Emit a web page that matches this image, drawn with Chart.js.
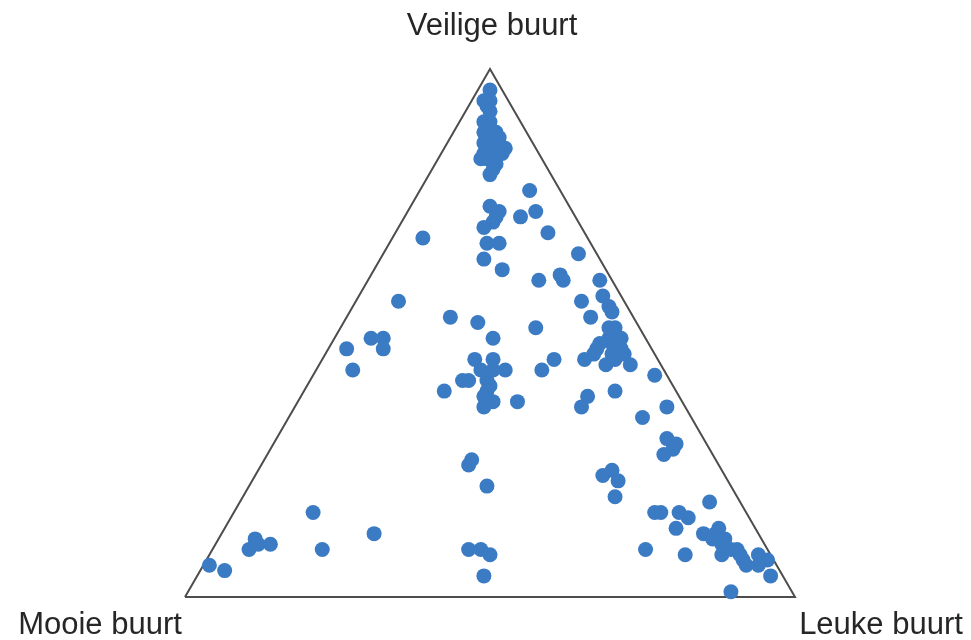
<!DOCTYPE html>
<html>
<head>
<meta charset="utf-8">
<script src="https://cdn.jsdelivr.net/npm/chart.js@4/dist/chart.umd.min.js"></script>
<style>
  html, body { margin: 0; padding: 0; background: #fff; }
  #wrap { width: 971px; height: 640px; position: relative; }
</style>
</head>
<body>
<div id="wrap"><canvas id="myChart"></canvas></div>
<script>
// corner labels (top, bottom-left, bottom-right)
const labelTop = 'Veilige buurt';
const labelLeft = 'Mooie buurt';
const labelRight = 'Leuke buurt';

// shares in percent, one entry per respondent
const veilige = [96, 94, 93, 92, 90, 90, 89, 88, 88, 87, 87, 86, 85, 85, 84, 84, 84, 83, 82, 81, 80, 94, 83,
    77, 74, 73, 71, 70, 72, 72, 73, 68, 69, 67, 67, 64, 62, 65, 61, 60, 60, 60, 56, 57, 55,
    56, 53, 52, 49, 47, 49, 49, 47, 43, 45, 45, 43, 41, 41, 39, 41, 40, 39, 38, 37, 36, 37, 43, 43,
    54, 53, 51, 51, 49, 49, 45, 47, 46, 47, 44, 44, 45, 48, 48, 46, 45, 43, 42, 39, 38, 36, 36, 34, 51, 46,
    30, 29, 27, 28, 23, 24, 22, 19, 16, 16, 15, 13, 18, 12, 13, 11, 10, 9, 8, 8, 7, 8, 7, 6, 6, 9, 8, 4, 1, 12, 11, 9, 16,
    26, 25, 21, 9, 9, 8, 4,
    16, 12, 9, 11, 10, 9, 6, 5, 10];
const leuke = [2, 3, 3, 4, 4, 5, 5, 7, 5, 6, 8, 6, 8, 10, 7, 8, 10, 8, 10, 10, 10, 2, 7,
    18, 13, 15, 15, 14, 15, 19, 21, 5, 25, 16, 18, 17, 21, 32, 31, 32, 28, 38, 37, 40, 42,
    7, 17, 22, 26, 3, 6, 8, 9, 6, 25, 28, 31, 25, 26, 23, 29, 30, 30, 30, 32, 31, 36, 29, 27,
    43, 40, 32, 45, 47, 45, 43, 44, 47, 48, 47, 51, 48, 46, 44, 44, 38, 37, 56, 51, 47, 47, 61, 58, 44, 49,
    64, 66, 65, 66, 57, 58, 60, 61, 69, 73, 75, 74, 77, 79, 81, 81, 83, 85, 84, 87, 88, 90, 92, 89, 91, 71, 78, 94, 89, 81, 83, 86, 70,
    34, 34, 39, 42, 44, 46, 47,
    13, 25, 18, 6, 9, 6, 1, 4, 7];
const mooie = [2, 3, 4, 4, 6, 5, 6, 5, 7, 7, 5, 8, 7, 5, 9, 8, 6, 9, 8, 9, 10, 4, 10,
    5, 13, 12, 14, 16, 13, 9, 6, 27, 6, 17, 15, 19, 17, 3, 8, 8, 12, 2, 7, 3, 3,
    37, 30, 26, 25, 50, 45, 43, 44, 51, 30, 27, 26, 34, 33, 38, 30, 30, 31, 32, 31, 33, 27, 28, 30,
    3, 7, 17, 4, 4, 6, 12, 9, 7, 5, 9, 5, 7, 6, 8, 10, 17, 20, 2, 10, 15, 17, 3, 8, 5, 5,
    6, 5, 8, 6, 20, 18, 18, 20, 15, 11, 10, 13, 5, 9, 6, 8, 7, 6, 8, 5, 5, 2, 1, 5, 3, 20, 14, 2, 10, 7, 6, 5, 14,
    40, 41, 40, 49, 47, 46, 49,
    71, 63, 73, 83, 81, 85, 93, 91, 83];

const H = Math.sqrt(3) / 2;
const points = veilige.map((v, i) => ({ x: leuke[i] + v / 2, y: v * H }));
const corners = [{ x: 0, y: 0 }, { x: 100, y: 0 }, { x: 50, y: 100 * H }, { x: 0, y: 0 }];

const cornerLabels = {
    id: 'cornerLabels',
    afterDraw(chart) {
        const c = chart.ctx;
        const xs = chart.scales.x, ys = chart.scales.y;
        c.save();
        c.font = '31px "Liberation Sans", Arial, sans-serif';
        c.fillStyle = '#262626';
        c.textAlign = 'center';
        c.textBaseline = 'alphabetic';
        c.fillText(labelTop, xs.getPixelForValue(50) + 2, ys.getPixelForValue(100 * H) - 34);
        c.fillText(labelLeft, xs.getPixelForValue(0) - 85, ys.getPixelForValue(0) + 37);
        c.fillText(labelRight, xs.getPixelForValue(100) + 86, ys.getPixelForValue(0) + 37);
        c.restore();
    }
};

new Chart(document.getElementById('myChart'), {
    type: 'scatter',
    data: {
        datasets: [{
            label: 'antwoorden',
            data: points,
            pointRadius: 7.5,
            pointHoverRadius: 7.5,
            pointBorderWidth: 0,
            backgroundColor: '#3b7bc4',
            borderColor: '#3b7bc4',
            clip: false,
            order: 1
        }, {
            label: 'driehoek',
            data: corners,
            showLine: true,
            borderColor: '#4d4d4d',
            borderWidth: 2,
            pointRadius: 0,
            tension: 0,
            clip: false,
            order: 2
        }]
    },
    options: {
        responsive: true,
        maintainAspectRatio: false,
        animation: false,
        layout: {
            padding: { left: 185, right: 176, top: 69, bottom: 43 }
        },
        scales: {
            x: { type: 'linear', min: 0, max: 100, display: false },
            y: { type: 'linear', min: 0, max: 100 * H, display: false }
        },
        plugins: {
            legend: { display: false },
            tooltip: { enabled: false }
        }
    },
    plugins: [cornerLabels]
});
</script>
</body>
</html>
